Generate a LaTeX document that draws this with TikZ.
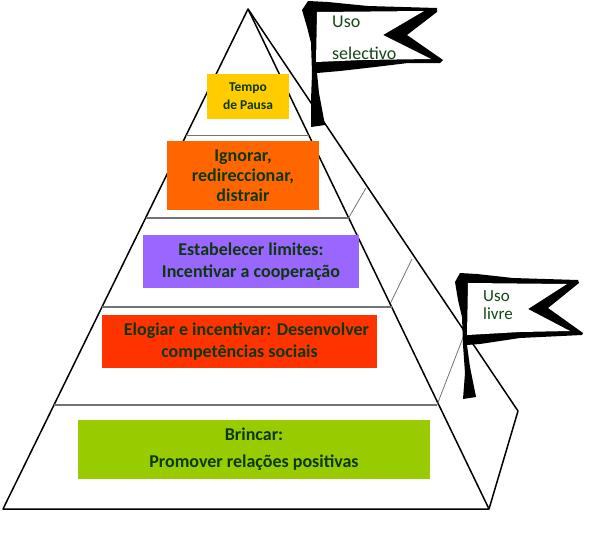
\documentclass[tikz,border=0pt]{standalone}
\usepackage{fontspec}
\setmainfont{Carlito}
\usetikzlibrary{calc}
\definecolor{LEVEL-YELLOW}{RGB}{255, 204, 0}
\definecolor{LEVEL-ORANGE}{RGB}{255, 102, 0}
\definecolor{LEVEL-PURPLE}{RGB}{153, 102, 255}
\definecolor{LEVEL-RED}{RGB}{255, 51, 0}
\definecolor{LEVEL-GREEN}{RGB}{153, 204, 0}
\definecolor{TEXT-GREEN}{RGB}{12, 56, 12}
\definecolor{FLAG-GREEN}{RGB}{20, 72, 24}
\tikzset{
  pyrline/.style={black, line width=1.5pt, line join=round},
  shelfline/.style={black!55, line width=1.3pt},
  backline/.style={black!55, line width=0.8pt},
  levelbox/.style={inner sep=0pt, align=center, text=TEXT-GREEN, font=\bfseries},
  flagtext/.style={inner sep=0pt, anchor=west, text=FLAG-GREEN}
}

\begin{document}
\begin{tikzpicture}[x=1pt,y=-1pt]
  \useasboundingbox (0,0) rectangle (591,533);

  % Pyramid outline
  \coordinate (apex) at (248,9);
  \coordinate (baseL) at (3,509);
  \coordinate (baseR) at (489,509);
  \coordinate (backR) at (518,411);
  \draw[pyrline] (apex) -- (baseL) -- (baseR) -- cycle;
  \draw[pyrline] (apex) -- (backR) -- (baseR);

  % Shelves
  \draw[shelfline] (186,135.5) -- (309,135.5);
  \draw[shelfline] (146,218) -- (348.5,218);
  \draw[shelfline] (102,307) -- (392,307);
  \draw[shelfline] (54,405) -- (437,405);

  % Back face lines
  \draw[backline] (348.5,218) -- (366,188);
  \draw[backline] (390.5,303) -- (412,259);
  \draw[backline] (437,405) -- (464,335);

  % Levels
  \node[levelbox, fill=LEVEL-YELLOW, minimum width=82pt, minimum height=45pt, font=\bfseries\fontsize{13.5}{18}\selectfont] (pause) at (248,96.5) {Tempo\\de Pausa};
  \node[levelbox, fill=LEVEL-ORANGE, minimum width=152pt, minimum height=69pt, font=\bfseries\fontsize{18}{20}\selectfont] (ignore) at (243,175.5) {Ignorar,\\redireccionar,\\distrair};
  \node[levelbox, fill=LEVEL-PURPLE, minimum width=216pt, minimum height=53pt, font=\bfseries\fontsize{18}{22}\selectfont] (limits) at (251,261.5) {Estabelecer limites:\\Incentivar a cooperação};
  \node[levelbox, fill=LEVEL-RED, minimum width=275pt, minimum height=53pt, font=\bfseries\fontsize{18}{22}\selectfont] (praise) at (239.5,341.5) {\hspace*{14pt}Elogiar e incentivar: Desenvolver\\competências sociais};
  \node[levelbox, fill=LEVEL-GREEN, minimum width=352pt, minimum height=59pt, font=\bfseries\fontsize{18}{27}\selectfont] (play) at (254,449.5) {Brincar:\\Promover relações positivas};

  % Upper flag
  \fill[black] (302,10) -- (308,1) -- (328,2) -- (368,6) -- (437,8) -- (437,12) -- (407,35) -- (443,60) -- (440,63) -- (408,63) -- (375,67) -- (340,71) -- (317,73) -- (319,93) -- (325,125) -- (311,127) -- (311,100) -- (312,73) -- (311,43) -- (307,27) -- cycle;
  \fill[white] (317,12) -- (424,11) -- (383,35) -- (431,59) -- (362,60) -- (316,62) -- cycle;
  \node[flagtext, font=\fontsize{18}{18}\selectfont] (useA) at (332,22) {Uso};
  \node[flagtext, font=\fontsize{18}{18}\selectfont] (useB) at (332,53) {selectivo};

  % Lower flag
  \fill[black] (455,282) -- (460,273) -- (477,274) -- (513,278) -- (578,280) -- (579,283) -- (548,308) -- (583,333) -- (582,335) -- (520,338) -- (480,344) -- (467,345) -- (470,367) -- (476,397) -- (463,399) -- (465,373) -- (463,345) -- (462,317) -- (458,300) -- cycle;
  \fill[white] (468,283) -- (567,284) -- (528,309) -- (570,331) -- (520,332) -- (467,335) -- cycle;
  \node[flagtext, font=\fontsize{17}{17}\selectfont] (useC) at (483,296) {Uso};
  \node[flagtext, font=\fontsize{17}{17}\selectfont] (useD) at (483,314) {livre};
\end{tikzpicture}
\end{document}
